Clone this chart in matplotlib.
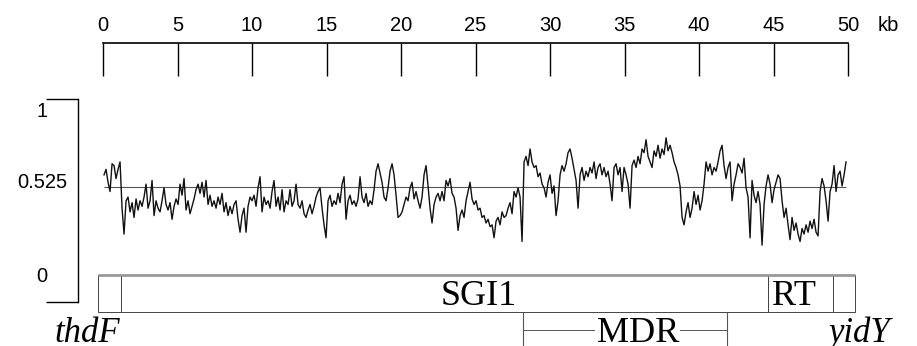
import numpy as np
import matplotlib.pyplot as plt
from matplotlib.patches import Rectangle
from matplotlib.transforms import blended_transform_factory

# scale bar (kb)
scale_ticks = [0, 5, 10, 15, 20, 25, 30, 35, 40, 45, 50]

# GC content in a sliding window along the island
gc = [
    # 0 - 10 kb
    .59, .62, .55, .50, .65, .64, .57, .62, .66, .41, .27, .45, .47, .39, .44, .36, .46, .40, .45, .42,
    .47, .54, .41, .45, .56, .37, .45, .41, .39, .45, .52, .43, .40, .44, .35, .42, .46, .43, .54, .48,
    .57, .40, .45, .38, .42, .46, .51, .54, .49, .55, .47, .56, .43, .48, .42, .45, .41, .47, .43, .49,
    .39, .44, .37, .42, .38, .43, .45, .35, .28, .37, .41, .28, .42, .47,
    # 10 - 20 kb
    .45, .48, .42, .52, .58, .39, .47, .43, .45, .41, .50, .56, .42, .47, .40, .51, .39, .45, .43, .51,
    .42, .45, .54, .43, .41, .45, .38, .36, .40, .43, .38, .42, .47, .50, .52, .41, .32, .25, .45, .48,
    .42, .45, .43, .49, .44, .54, .58, .35, .45, .48, .43, .45, .42, .46, .58, .47, .44, .49, .42, .45,
    .43, .51, .61, .65, .60, .55, .47, .45, .52, .61, .65, .59, .48, .36,
    # 20 - 30 kb
    .37, .39, .43, .47, .45, .52, .55, .46, .50, .45, .41, .47, .59, .64, .53, .41, .33, .43, .47, .49,
    .45, .50, .45, .56, .53, .57, .49, .47, .41, .29, .37, .40, .36, .45, .50, .55, .46, .43, .45, .40,
    .41, .36, .37, .33, .35, .31, .32, .25, .34, .36, .32, .39, .36, .37, .41, .44, .38, .50, .47, .52,
    .47, .23, .66, .69, .64, .73, .66, .63, .64, .58, .60, .54, .52, .47,
    # 30 - 40 kb
    .55, .59, .49, .53, .37, .45, .59, .64, .61, .65, .71, .73, .68, .62, .56, .41, .59, .63, .56, .61,
    .58, .63, .60, .66, .57, .63, .65, .59, .63, .58, .61, .54, .45, .63, .65, .59, .63, .50, .63, .59,
    .54, .41, .64, .67, .63, .69, .65, .73, .71, .78, .69, .66, .63, .72, .69, .75, .68, .73, .70, .79,
    .72, .75, .71, .66, .63, .59, .53, .36, .32, .39, .44, .36, .41, .50,
    # 40 - 50 kb
    .43, .48, .40, .45, .54, .66, .61, .65, .59, .63, .61, .66, .72, .75, .64, .57, .63, .66, .45, .54,
    .59, .65, .63, .60, .68, .52, .47, .25, .56, .48, .44, .50, .43, .21, .43, .53, .59, .54, .44, .51,
    .55, .59, .57, .45, .36, .41, .32, .24, .36, .29, .33, .27, .23, .30, .27, .32, .28, .34, .30, .35,
    .28, .26, .50, .57, .53, .45, .34, .50, .54, .64, .50, .59, .61, .53, .59, .66,
]
gc_first, gc_last = 0.07, 49.87   # kb of first / last window
gc_mean = 0.525

# genetic map (kb)
box_start = [-0.34, 1.2, 44.6, 49.0]
box_end = [1.2, 44.6, 49.0, 50.5]
box_names = ['SGI1', 'RT']
box_label_x = [25.2, 46.4]
mdr_start, mdr_end = 28.2, 41.9
mdr_label_x = 35.9
flank_names = ['thdF', 'yidY']
flank_x = [-1.04, 50.8]

xmin = -25 * 50 / 745.0   # left edge of plotting area in kb
serif = 'Liberation Serif'
sans = 'Liberation Sans'

fig = plt.figure(figsize=(9.17, 3.46), dpi=100)
L, W = 78 / 917, 770 / 917
ax_scale = fig.add_axes([L, 270 / 346, W, 33 / 346])
ax_gc = fig.add_axes([L, 44 / 346, W, 203 / 346])
ax_map = fig.add_axes([L, 0, W, 74 / 346])
for a in (ax_scale, ax_gc, ax_map):
    a.set_xlim(xmin, 50)
    a.patch.set_visible(False)
    for s in a.spines.values():
        s.set_visible(False)

# scale bar on top
ax_scale.spines['top'].set_visible(True)
ax_scale.spines['top'].set_bounds(0, 50)
ax_scale.spines['top'].set_linewidth(1.2)
ax_scale.xaxis.tick_top()
ax_scale.set_xticks(scale_ticks)
ax_scale.set_xticklabels([str(t) for t in scale_ticks], fontsize=14.5, family=sans)
ax_scale.tick_params(axis='x', direction='in', length=23.8, width=1.0, pad=5.5)
ax_scale.set_yticks([])
ax_scale.text(52.0, 1.36, 'kb', fontsize=14.5, family=sans, ha='left', va='baseline',
              transform=blended_transform_factory(ax_scale.transData, ax_scale.transAxes))

# GC plot
ybot = -0.097
ax_gc.set_ylim(ybot, 1.0)
ax_gc.spines['left'].set_visible(True)
ax_gc.spines['left'].set_linewidth(1.0)
ax_gc.set_yticks([ybot, 1.0])
ax_gc.set_yticklabels(['', ''])
ax_gc.tick_params(axis='y', direction='out', length=23, width=1.0)
ax_gc.set_xticks([])
pos = np.linspace(gc_first, gc_last, len(gc))
ax_gc.hlines(gc_mean, pos[0], pos[-1], color='#555555', lw=0.8)
ax_gc.plot(pos, gc, color='#111111', lw=1.0)
for lab, yv in [('1', 0.93), ('0.525', 0.551), ('0', 0.043)]:
    ax_gc.text(-4.1, yv, lab, fontsize=14.5, family=sans, ha='center', va='center', clip_on=False)

# map
ax_map.set_ylim(0, 74)
ax_map.set_xticks([])
ax_map.set_yticks([])
y0, y1 = 34, 71
for s, e in zip(box_start, box_end):
    ax_map.add_patch(Rectangle((s, y0), e - s, y1 - y0, fill=False, edgecolor='#444444',
                               lw=0.7, clip_on=False))
ax_map.hlines(y1, box_start[0], box_end[-1], color='#999999', lw=2.0, clip_on=False)
for name, xl in zip(box_names, box_label_x):
    ax_map.text(xl, 49.5, name, fontsize=26, family=serif, ha='center', va='center')

ax_map.vlines([mdr_start, mdr_end], 0, y0, color='#555555', lw=0.8)
ax_map.hlines(16, mdr_start, mdr_end, color='#555555', lw=0.7)
ax_map.text(mdr_label_x, 13, 'MDR', fontsize=26, family=serif, ha='center', va='center',
            bbox=dict(facecolor='white', edgecolor='none', pad=1))
for name, xl in zip(flank_names, flank_x):
    ax_map.text(xl, 13, name, fontsize=25, family=serif, style='italic', ha='center',
                va='center', clip_on=False)

fig.savefig('out.png', dpi=100)
